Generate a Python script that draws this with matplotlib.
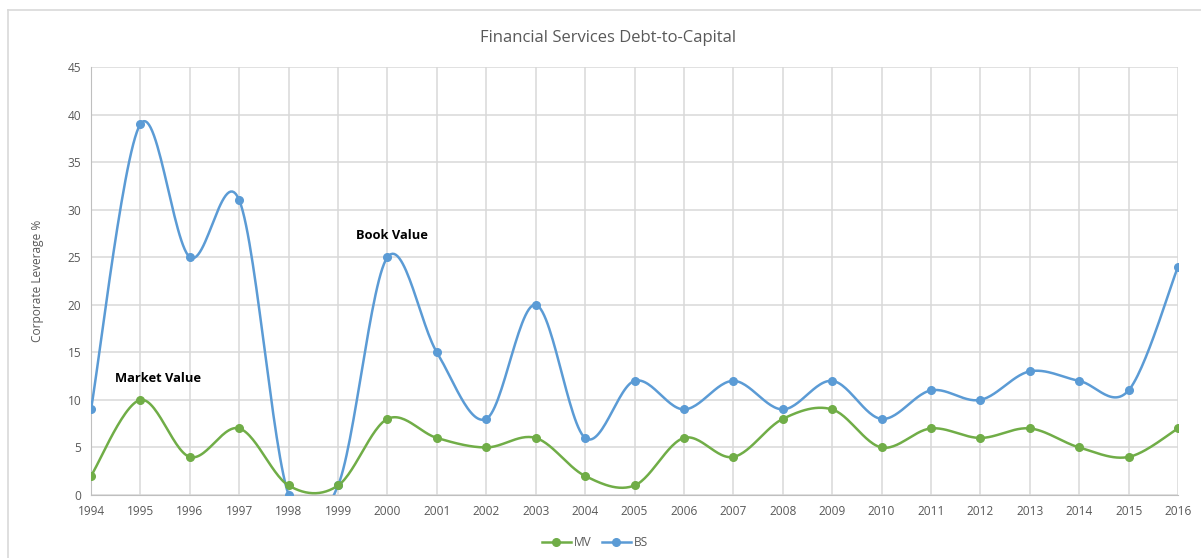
import numpy as np
import matplotlib.pyplot as plt
from matplotlib.lines import Line2D

years = list(range(1994, 2017))
mv = [2, 10, 4, 7, 1, 1, 8, 6, 5, 6, 2, 1, 6, 4, 8, 9, 5, 7, 6, 7, 5, 4, 7]
bs = [9, 39, 25, 31, 0, 1, 25, 15, 8, 20, 6, 12, 9, 12, 9, 12, 8, 11, 10, 13, 12, 11, 24]

GREEN = '#70AD47'
BLUE = '#5B9BD5'
GREY = '#595959'

plt.rcParams['font.family'] = ['Open Sans', 'DejaVu Sans']


def smooth(xs, ys, n=30):
    # catmull-rom style bezier through every point, like a spreadsheet "smoothed line"
    x = np.asarray(xs, float)
    y = np.asarray(ys, float)
    px = np.concatenate([[x[0]], x, [x[-1]]])
    py = np.concatenate([[y[0]], y, [y[-1]]])
    ox, oy = [], []
    t = np.linspace(0, 1, n)
    for i in range(1, len(px) - 2):
        p0 = np.array([px[i], py[i]])
        p3 = np.array([px[i + 1], py[i + 1]])
        c1 = p0 + (np.array([px[i + 1], py[i + 1]]) - np.array([px[i - 1], py[i - 1]])) / 6
        c2 = p3 - (np.array([px[i + 2], py[i + 2]]) - np.array([px[i], py[i]])) / 6
        b = ((1 - t) ** 3)[:, None] * p0 + (3 * (1 - t) ** 2 * t)[:, None] * c1 \
            + (3 * (1 - t) * t ** 2)[:, None] * c2 + (t ** 3)[:, None] * p3
        ox.extend(b[:, 0])
        oy.extend(b[:, 1])
    return ox, oy


fig = plt.figure(figsize=(12.01, 5.58), dpi=100)
ax = fig.add_axes([91 / 1201, 1 - 495 / 558, (1178 - 91) / 1201, (495 - 67) / 558])

# chart frame (top and left edges)
fig.add_artist(Line2D([8 / 1201, 1.0], [1 - 10 / 558] * 2, color='#d9d9d9', lw=1.2))
fig.add_artist(Line2D([8 / 1201] * 2, [0, 1 - 10 / 558], color='#d9d9d9', lw=1.2))

for vals, col in [(bs, BLUE), (mv, GREEN)]:
    sx, sy = smooth(years, vals)
    ax.plot(sx, sy, color=col, lw=1.8, solid_capstyle='round', zorder=3)
    ax.plot(years, vals, 'o', color=col, ms=5.5, zorder=4)

ax.set_xlim(1994, 2016)
ax.set_ylim(0, 45)
ax.set_xticks(years)
ax.set_yticks(range(0, 50, 5))
ax.grid(True, color='#d9d9d9', lw=1.1)
ax.set_axisbelow(True)
for s in ax.spines.values():
    s.set_visible(False)
ax.spines['left'].set_visible(True)
ax.spines['bottom'].set_visible(True)
ax.spines['left'].set_color('#bfbfbf')
ax.spines['bottom'].set_color('#bfbfbf')
ax.tick_params(length=0, labelsize=8.6, labelcolor=GREY, pad=7)

ax.set_ylabel('Corporate Leverage %', fontsize=8.6, color=GREY, labelpad=17)
fig.text(608 / 1201, 1 - 38 / 558, 'Financial Services Debt-to-Capital',
         ha='center', va='center', fontsize=12, color=GREY)

ax.text(2000.1, 27.3, 'Book Value', ha='center', va='center', fontsize=9.3,
        fontweight='bold', color='black')
ax.text(1995.36, 12.3, 'Market Value', ha='center', va='center', fontsize=9.3,
        fontweight='bold', color='black')

handles = [Line2D([], [], color=GREEN, lw=1.8, marker='o', ms=5.5),
           Line2D([], [], color=BLUE, lw=1.8, marker='o', ms=5.5)]
fig.legend(handles, ['MV', 'BS'], loc='center', bbox_to_anchor=(595 / 1201, 1 - 543 / 558),
           ncol=2, frameon=False, fontsize=8.6, labelcolor=GREY,
           handlelength=2.4, handletextpad=0.25, columnspacing=0.9)

fig.savefig('out.png', dpi=100)
